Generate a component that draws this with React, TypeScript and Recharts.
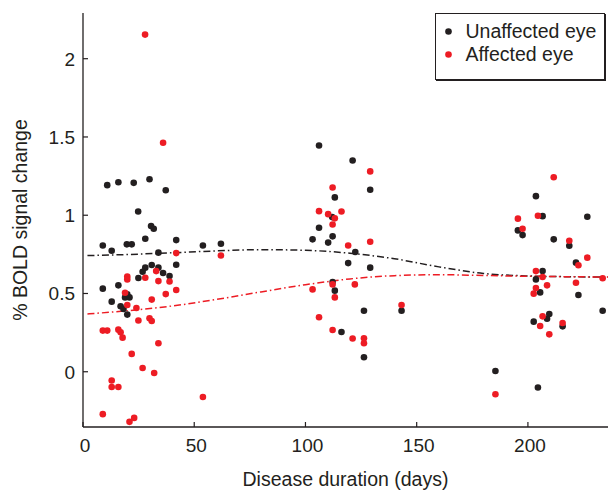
import { ComposedChart, Scatter, Line, XAxis, YAxis, Legend, Label } from 'recharts'

const INK = '#231f20'
const RED = '#ed1c24'
const FONT = '"Liberation Sans", Arial, Helvetica, sans-serif'

const xTicks = [0, 50, 100, 150, 200]
const yTicks = [0, 0.5, 1, 1.5, 2]

// [disease duration (days), % BOLD signal change]
const unaffectedEye: [number, number][] = [
  [10.9, 1.192], [15.9, 1.211], [22.8, 1.207], [29.9, 1.23], [37.2, 1.16], [24.8, 1.024],
  [8.9, 0.807], [12.9, 0.773], [19.7, 0.814], [21.9, 0.814], [28.0, 0.85], [30.6, 0.931],
  [31.8, 0.914], [41.9, 0.841], [33.9, 0.761], [53.9, 0.807], [62.0, 0.818],
  [30.9, 0.682], [28.0, 0.665], [26.8, 0.639], [33.9, 0.665], [36.0, 0.631], [38.9, 0.611],
  [41.9, 0.684], [24.9, 0.599], [8.9, 0.531], [15.9, 0.552], [18.9, 0.475], [20.9, 0.475],
  [19.9, 0.495], [12.9, 0.448], [16.9, 0.418], [18.2, 0.401], [19.9, 0.365],
  [106.1, 1.445], [121.2, 1.35], [129.1, 1.163], [113.2, 1.114], [112.0, 0.988], [106.1, 0.92],
  [103.2, 0.846], [112.2, 0.865], [110.2, 0.825], [122.4, 0.765], [119.2, 0.694], [129.1, 0.665],
  [113.2, 0.518], [112.2, 0.573], [126.3, 0.39], [143.2, 0.39], [116.2, 0.254], [126.3, 0.093],
  [203.6, 1.122], [206.6, 0.994], [226.7, 0.99], [195.5, 0.903], [197.6, 0.873], [211.6, 0.846],
  [218.6, 0.805], [221.6, 0.697], [206.6, 0.643], [203.6, 0.59], [205.5, 0.507], [222.7, 0.49],
  [233.6, 0.39], [209.6, 0.369], [208.6, 0.339], [202.6, 0.32], [215.6, 0.29], [185.4, 0.005],
  [204.5, -0.101],
]

const affectedEye: [number, number][] = [
  [27.9, 2.154], [36.0, 1.463], [41.9, 0.758], [62.0, 0.743], [32.9, 0.643], [28.0, 0.601],
  [19.9, 0.609], [19.9, 0.59], [33.9, 0.579], [38.9, 0.577], [18.9, 0.505], [37.2, 0.496],
  [41.9, 0.522], [30.9, 0.461], [19.9, 0.426], [24.0, 0.407], [24.9, 0.327], [29.9, 0.341],
  [30.9, 0.324], [8.9, 0.263], [10.9, 0.263], [15.9, 0.269], [16.9, 0.252], [17.8, 0.218],
  [33.9, 0.182], [21.9, 0.114], [26.8, 0.024], [32.0, -0.008], [12.9, -0.056], [12.9, -0.097],
  [15.9, -0.097], [53.9, -0.161], [8.9, -0.271], [23.0, -0.295], [20.9, -0.32],
  [129.1, 1.28], [112.2, 1.177], [106.1, 1.026], [110.2, 1.007], [116.2, 1.024], [113.2, 0.98],
  [112.2, 0.941], [119.2, 0.807], [129.1, 0.831], [112.2, 0.558], [103.2, 0.526], [122.2, 0.558],
  [113.2, 0.475], [143.2, 0.426], [106.1, 0.348], [112.2, 0.267], [121.2, 0.212], [126.3, 0.214],
  [126.3, 0.182],
  [211.6, 1.243], [204.5, 0.997], [195.5, 0.978], [197.6, 0.914], [218.6, 0.837], [226.7, 0.729],
  [222.7, 0.68], [203.6, 0.643], [206.6, 0.605], [233.6, 0.597], [221.6, 0.569], [208.6, 0.552],
  [203.6, 0.535], [202.6, 0.499], [206.6, 0.354], [215.6, 0.311], [205.5, 0.292], [209.6, 0.239],
  [185.4, -0.144],
]

// fitted curves
const fitDays = [2, 20, 40, 60, 80, 100, 120, 140, 160, 180, 200, 220, 236]
const unaffectedFit = [0.742, 0.749, 0.76, 0.772, 0.78, 0.776, 0.757, 0.722, 0.67, 0.628, 0.612, 0.607, 0.605]
const affectedFit = [0.369, 0.39, 0.42, 0.462, 0.51, 0.556, 0.593, 0.614, 0.62, 0.615, 0.61, 0.607, 0.605]

const toPoints = (pts: [number, number][]) => pts.map(([day, signal]) => ({ day, signal }))
const toFit = (vals: number[]) => fitDays.map((day, i) => ({ day, signal: vals[i] }))

function XTick({ x, y, payload }: any) {
  return (
    <g>
      <line x1={x} x2={x} y1={y - 8} y2={y - 13} stroke={INK} strokeWidth={1.2} />
      <text x={x} y={y} dx={2} dy={17} textAnchor="middle" fill={INK} fontSize={19} fontFamily={FONT}>
        {payload.value}
      </text>
    </g>
  )
}

function YTick({ x, y, payload }: any) {
  return (
    <g>
      <line x1={x + 8} x2={x + 13} y1={y} y2={y} stroke={INK} strokeWidth={1.2} />
      <text x={x} y={y} dy={6.8} textAnchor="end" fill={INK} fontSize={19} fontFamily={FONT}>
        {payload.value}
      </text>
    </g>
  )
}

function LegendBox() {
  const rows = [
    { label: 'Unaffected eye', color: INK },
    { label: 'Affected eye', color: RED },
  ]
  return (
    <div
      style={{
        boxSizing: 'border-box', width: 170, height: 67, padding: '6px 0 0 9px',
        border: `1.3px solid ${INK}`, boxShadow: `1px 1px 0 ${INK}`, background: '#fff',
        fontFamily: FONT, fontSize: 19.5, color: INK,
      }}
    >
      {rows.map((r) => (
        <div key={r.label} style={{ display: 'flex', alignItems: 'center', height: 23, whiteSpace: 'nowrap' }}>
          <svg width={7} height={7} style={{ marginRight: 13.5 }}>
            <circle cx={3.5} cy={3.5} r={3.3} fill={r.color} />
          </svg>
          <span>{r.label}</span>
        </div>
      ))}
    </div>
  )
}

const dot = (color: string) => (p: any) => <circle cx={p.cx} cy={p.cy} r={3.3} fill={color} />

export default function App() {
  return (
    <div style={{ position: 'absolute', left: 0, top: 0, background: '#fff' }}>
      <ComposedChart width={608} height={491} margin={{ top: 13, right: 0, bottom: 0, left: 0 }}>
        <XAxis
          type="number"
          dataKey="day"
          domain={[0, 236]}
          allowDataOverflow
          ticks={xTicks}
          interval={0}
          height={64}
          tickLine={false}
          axisLine={{ stroke: INK, strokeWidth: 1.3 }}
          tick={<XTick />}
        >
          <Label
            content={() => (
              <text x={345.5} y={486} textAnchor="middle" fill={INK} fontSize={19.5} fontFamily={FONT}>
                Disease duration (days)
              </text>
            )}
          />
        </XAxis>
        <YAxis
          type="number"
          dataKey="signal"
          domain={[-0.353, 2.292]}
          allowDataOverflow
          ticks={yTicks}
          interval={0}
          width={83}
          tickLine={false}
          axisLine={{ stroke: INK, strokeWidth: 1.3 }}
          tick={<YTick />}
        >
          <Label
            content={() => (
              <text
                x={27}
                y={220}
                transform="rotate(-90, 27, 220)"
                textAnchor="middle"
                fill={INK}
                fontSize={19.5}
                fontFamily={FONT}
              >
                % BOLD signal change
              </text>
            )}
          />
        </YAxis>
        <Legend
          layout="vertical"
          align="center"
          verticalAlign="middle"
          wrapperStyle={{ left: 435, top: 13, width: 'auto', height: 'auto' }}
          content={<LegendBox />}
        />
        <Scatter name="Unaffected eye" data={toPoints(unaffectedEye)} fill={INK} shape={dot(INK)} isAnimationActive={false} />
        <Scatter name="Affected eye" data={toPoints(affectedEye)} fill={RED} shape={dot(RED)} isAnimationActive={false} />
        <Line
          data={toFit(unaffectedFit)}
          dataKey="signal"
          type="monotone"
          stroke={INK}
          strokeWidth={1.5}
          strokeDasharray="7 3 1.5 3"
          dot={false}
          activeDot={false}
          isAnimationActive={false}
        />
        <Line
          data={toFit(affectedFit)}
          dataKey="signal"
          type="monotone"
          stroke={RED}
          strokeWidth={1.5}
          strokeDasharray="7 3 1.5 3"
          dot={false}
          activeDot={false}
          isAnimationActive={false}
        />
      </ComposedChart>
    </div>
  )
}
